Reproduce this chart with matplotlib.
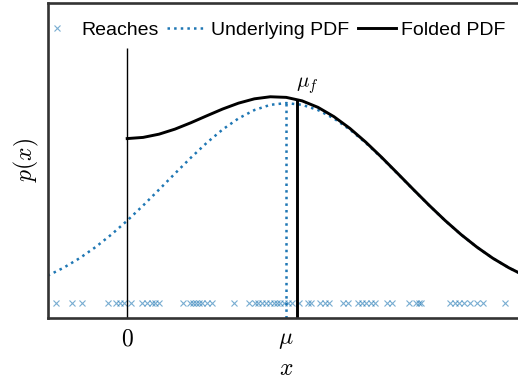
import matplotlib
matplotlib.use("Agg")
import matplotlib.pyplot as plt

plt.rcParams['mathtext.fontset'] = 'cm'
plt.rcParams['font.family'] = ['Liberation Sans', 'DejaVu Sans']

# values
mu = 1.0
mu_f = 1.065
zero_line_top = 0.68

x_under = [-0.5, -0.4, -0.3, -0.2, -0.1, 0.0, 0.1, 0.2, 0.3, 0.4, 0.5, 0.6, 0.7, 0.8, 0.9, 1.0,
           1.1, 1.2, 1.3, 1.4, 1.5, 1.6, 1.7, 1.8, 1.9, 2.0, 2.1, 2.2, 2.3, 2.4, 2.5]
p_under = [0.0720, 0.0932, 0.1184, 0.1479, 0.1815, 0.2187, 0.2590, 0.3012, 0.3441, 0.3863, 0.4260,
           0.4615, 0.4911, 0.5134, 0.5273, 0.5320, 0.5273, 0.5134, 0.4911, 0.4615, 0.4260, 0.3863,
           0.3441, 0.3012, 0.2590, 0.2187, 0.1815, 0.1479, 0.1184, 0.0932, 0.0720]

x_fold = [0.0, 0.1, 0.2, 0.3, 0.4, 0.5, 0.6, 0.7, 0.8, 0.9, 1.0, 1.1, 1.2,
          1.3, 1.4, 1.5, 1.6, 1.7, 1.8, 1.9, 2.0, 2.1, 2.2, 2.3, 2.4, 2.5]
p_fold = [0.4374, 0.4405, 0.4491, 0.4625, 0.4795, 0.4980, 0.5161, 0.5318, 0.5433, 0.5488, 0.5472,
          0.5379, 0.5206, 0.4959, 0.4647, 0.4281, 0.3876, 0.3449, 0.3017, 0.2593, 0.2189, 0.1816,
          0.1480, 0.1184, 0.0932, 0.0720]
p_under_at_mu = 0.532
p_fold_at_muf = 0.543

reaches = [-0.447, -0.346, -0.283, -0.119, -0.069, -0.044, -0.019, 0.025, 0.094, 0.126, 0.157,
           0.176, 0.201, 0.352, 0.396, 0.415, 0.434, 0.453, 0.472, 0.503, 0.535, 0.673, 0.767,
           0.805, 0.824, 0.849, 0.874, 0.899, 0.925, 0.943, 0.962, 0.987, 1.013, 1.038, 1.082,
           1.138, 1.157, 1.214, 1.245, 1.270, 1.358, 1.390, 1.453, 1.478, 1.503, 1.535, 1.560,
           1.635, 1.667, 1.774, 1.818, 1.836, 1.849, 2.031, 2.063, 2.088, 2.119, 2.157, 2.201,
           2.239, 2.377]

tick_pos = [0.0, mu]
tick_labels = ['$0$', r'$\mu$']

blue = '#1f77b4'

fig = plt.figure(figsize=(5.18, 3.79), dpi=100)
ax = fig.add_axes([0.0921, 0.1617, 0.9208, 0.8317])

ax.plot(reaches, [0.0] * len(reaches), linestyle='none', marker='x', color=blue,
        markersize=4.5, markeredgewidth=0.8, alpha=0.6, label='Reaches')
ax.plot(x_under, p_under, linestyle=':', color=blue, lw=1.8, label='Underlying PDF')
ax.plot(x_fold, p_fold, color='black', lw=2.1, label='Folded PDF')

# vertical markers
ax.vlines(0.0, -0.04, zero_line_top, color='black', lw=1)
ax.vlines(mu, -0.04, p_under_at_mu, color=blue, linestyle=':', lw=1.8)
ax.vlines(mu_f, -0.04, p_fold_at_muf, color='black', lw=2.1)
ax.text(mu_f - 0.005, 0.55, r'$\mu_f$', fontsize=15, ha='left', va='bottom')

ax.set_xlim(-0.5, 2.5)
ax.set_ylim(-0.04, 0.8)
ax.set_xticks(tick_pos)
ax.set_xticklabels(tick_labels, fontsize=17)
ax.set_yticks([])
ax.tick_params(axis='x', length=0, pad=8)
ax.set_xlabel('$x$', fontsize=17, labelpad=5)
ax.set_ylabel('$p(x)$', fontsize=17, labelpad=5)

for s in ax.spines.values():
    s.set_linewidth(1.9)
    s.set_color('#333333')

fig.legend(loc='center left', bbox_to_anchor=(38 / 518, 1 - 30 / 379), ncol=3, frameon=False,
           fontsize=14, handlelength=1.95, handletextpad=0.28, columnspacing=0.45,
           borderpad=0, borderaxespad=0, numpoints=1)

fig.savefig('out.png', dpi=100)
